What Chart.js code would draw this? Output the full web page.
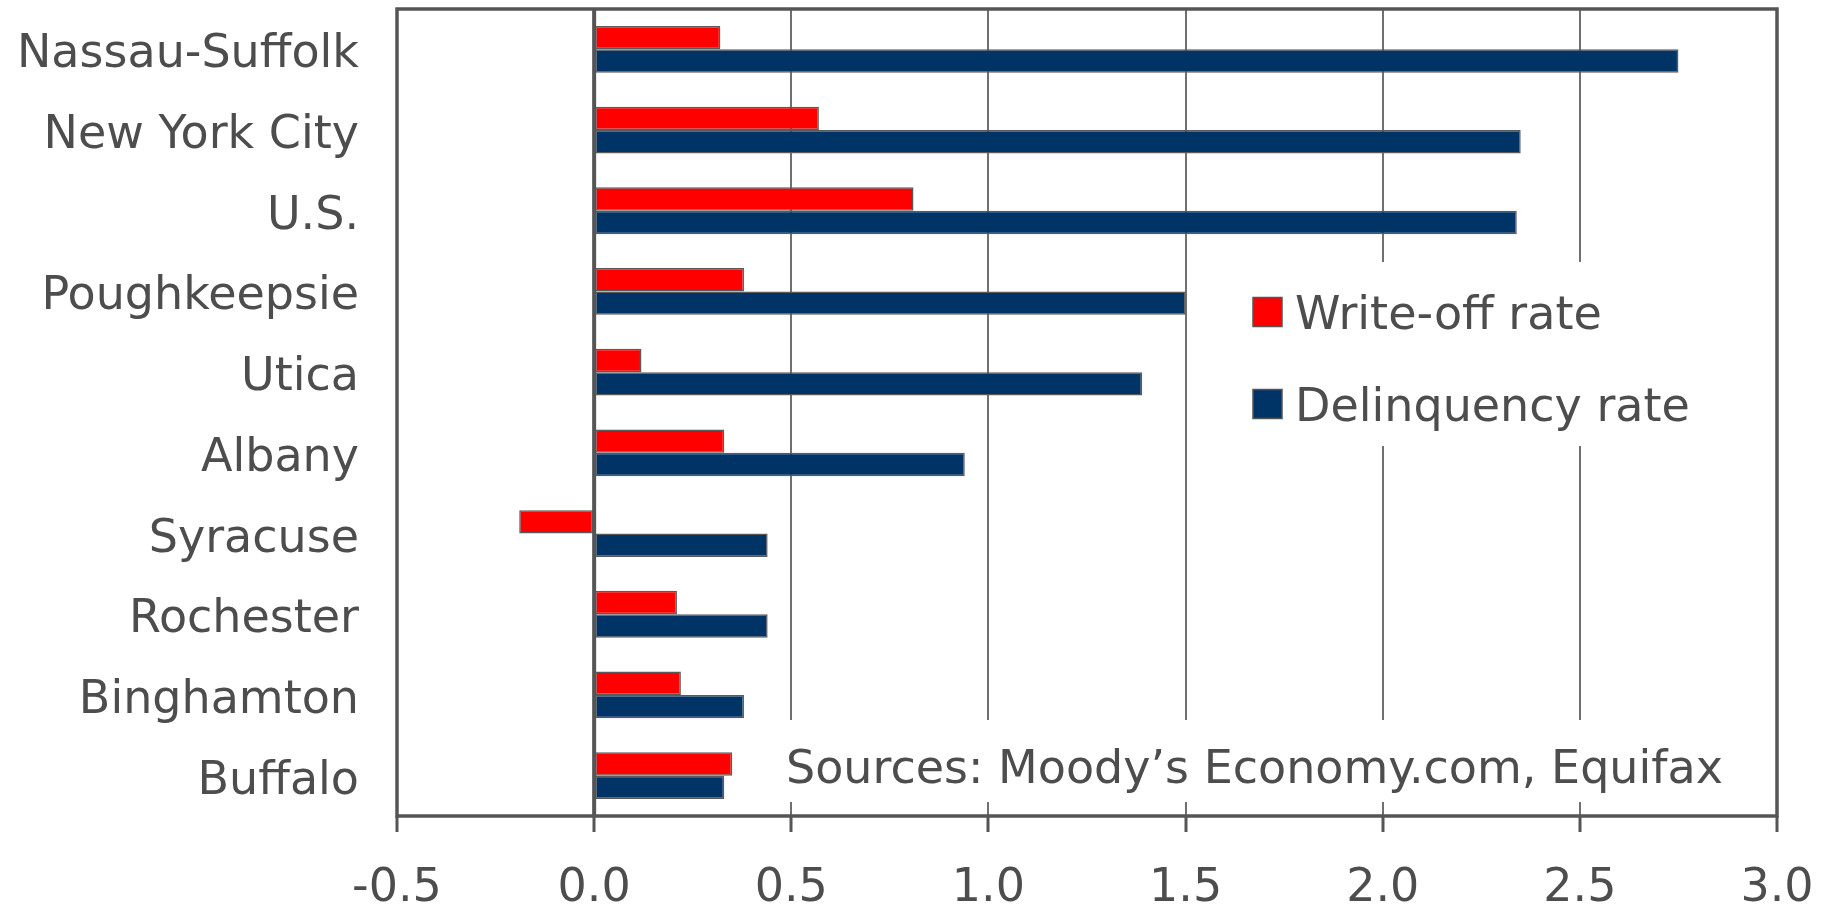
<!DOCTYPE html>
<html>
<head>
<meta charset="utf-8">
<script src="https://cdn.jsdelivr.net/npm/chart.js@4.4.1/dist/chart.umd.min.js"></script>
<style>
  html, body { margin: 0; padding: 0; background: #fff; }
  #wrap { width: 1833px; height: 904px; position: relative; }
</style>
</head>
<body>
<div id="wrap"><canvas id="myChart"></canvas></div>
<script>
const categories = ["Nassau-Suffolk", "New York City", "U.S.", "Poughkeepsie", "Utica",
  "Albany", "Syracuse", "Rochester", "Binghamton", "Buffalo"];
const writeOffRate = [0.32, 0.57, 0.81, 0.38, 0.12, 0.33, -0.19, 0.21, 0.22, 0.35];
const delinquencyRate = [2.75, 2.35, 2.34, 1.50, 1.39, 0.94, 0.44, 0.44, 0.38, 0.33];
const xTicks = [-0.5, 0.0, 0.5, 1.0, 1.5, 2.0, 2.5, 3.0];
const sourceNote = "Sources: Moody\u2019s Economy.com, Equifax";

const textColor = "#4d4d4d";
const frameColor = "#555555";
const fontFamily = "'DejaVu Sans', Verdana, sans-serif";

Chart.defaults.font.family = fontFamily;
Chart.defaults.font.size = 46;
Chart.defaults.color = textColor;

// white boxes behind legend + source note, they cut the gridlines like the original
const overlayBoxes = {
  id: "overlayBoxes",
  beforeDatasetsDraw(chart) {
    const { ctx, chartArea: a } = chart;
    ctx.save();
    ctx.fillStyle = "#fff";
    ctx.fillRect(a.left + 810, a.top + 253, 520, 184);
    ctx.fillRect(a.left + 373, a.bottom - 96, 975, 82);
    ctx.restore();
  },
  afterDatasetsDraw(chart) {
    const { ctx, chartArea: a } = chart;
    const x = chart.scales.x;
    ctx.save();
    // zero line
    ctx.strokeStyle = frameColor;
    ctx.lineWidth = 4;
    ctx.beginPath();
    ctx.moveTo(x.getPixelForValue(0), a.top);
    ctx.lineTo(x.getPixelForValue(0), a.bottom);
    ctx.stroke();
    // frame
    ctx.lineWidth = 3.5;
    ctx.strokeRect(a.left, a.top, a.right - a.left, a.bottom - a.top);

    // legend
    ctx.font = "46px " + fontFamily;
    ctx.textBaseline = "middle";
    ctx.textAlign = "left";
    chart.data.datasets.forEach((ds, i) => {
      const cy = a.top + 303 + i * 92;
      ctx.fillStyle = ds.backgroundColor;
      ctx.fillRect(a.left + 856, cy - 14.5, 29, 29);
      ctx.strokeStyle = frameColor;
      ctx.lineWidth = 1.5;
      ctx.strokeRect(a.left + 856, cy - 14.5, 29, 29);
      ctx.fillStyle = textColor;
      ctx.fillText(ds.label, a.left + 898, cy + 5);
    });

    // source note
    ctx.fillStyle = textColor;
    ctx.fillText(sourceNote, a.left + 389, a.bottom - 45);
    ctx.restore();
  }
};

const ctx = document.getElementById("myChart").getContext("2d");

const data = {
  labels: categories,
  datasets: [
    {
      label: "Write-off rate",
      data: writeOffRate,
      backgroundColor: "#ff0000",
      borderColor: "#5a5a5a",
      borderWidth: 1.5,
      borderSkipped: false,
    },
    {
      label: "Delinquency rate",
      data: delinquencyRate,
      backgroundColor: "#003366",
      borderColor: "#5a5a5a",
      borderWidth: 1.5,
      borderSkipped: false,
    },
  ],
};

const config = {
  type: "bar",
  data,
  plugins: [overlayBoxes],
  options: {
    indexAxis: "y",
    responsive: true,
    maintainAspectRatio: false,
    animation: false,
    layout: { padding: { left: 0, right: 56, top: 9, bottom: 0 } },
    datasets: {
      bar: { categoryPercentage: 0.58, barPercentage: 1.0 },
    },
    plugins: {
      legend: { display: false },
      tooltip: { enabled: false },
    },
    scales: {
      x: {
        type: "linear",
        min: -0.5,
        max: 3.0,
        afterBuildTicks: (scale) => {
          scale.ticks = xTicks.map((v) => ({ value: v }));
        },
        afterFit: (scale) => {
          scale.height = 88;
          scale.paddingLeft = 0;
          scale.paddingRight = 0;
        },
        border: { display: false },
        grid: {
          color: "#707070",
          lineWidth: 2,
          drawTicks: true,
          tickLength: 16,
          tickColor: frameColor,
          tickWidth: 3,
        },
        ticks: {
          padding: 29,
          color: textColor,
          callback: (value) => value.toFixed(1),
        },
      },
      y: {
        afterFit: (scale) => {
          scale.width = 397;
          scale.paddingTop = 0;
          scale.paddingBottom = 0;
        },
        border: { display: false },
        grid: { display: false, drawTicks: false },
        ticks: { padding: 38, labelOffset: 6, color: textColor },
      },
    },
  },
};

new Chart(ctx, config);
</script>
</body>
</html>
